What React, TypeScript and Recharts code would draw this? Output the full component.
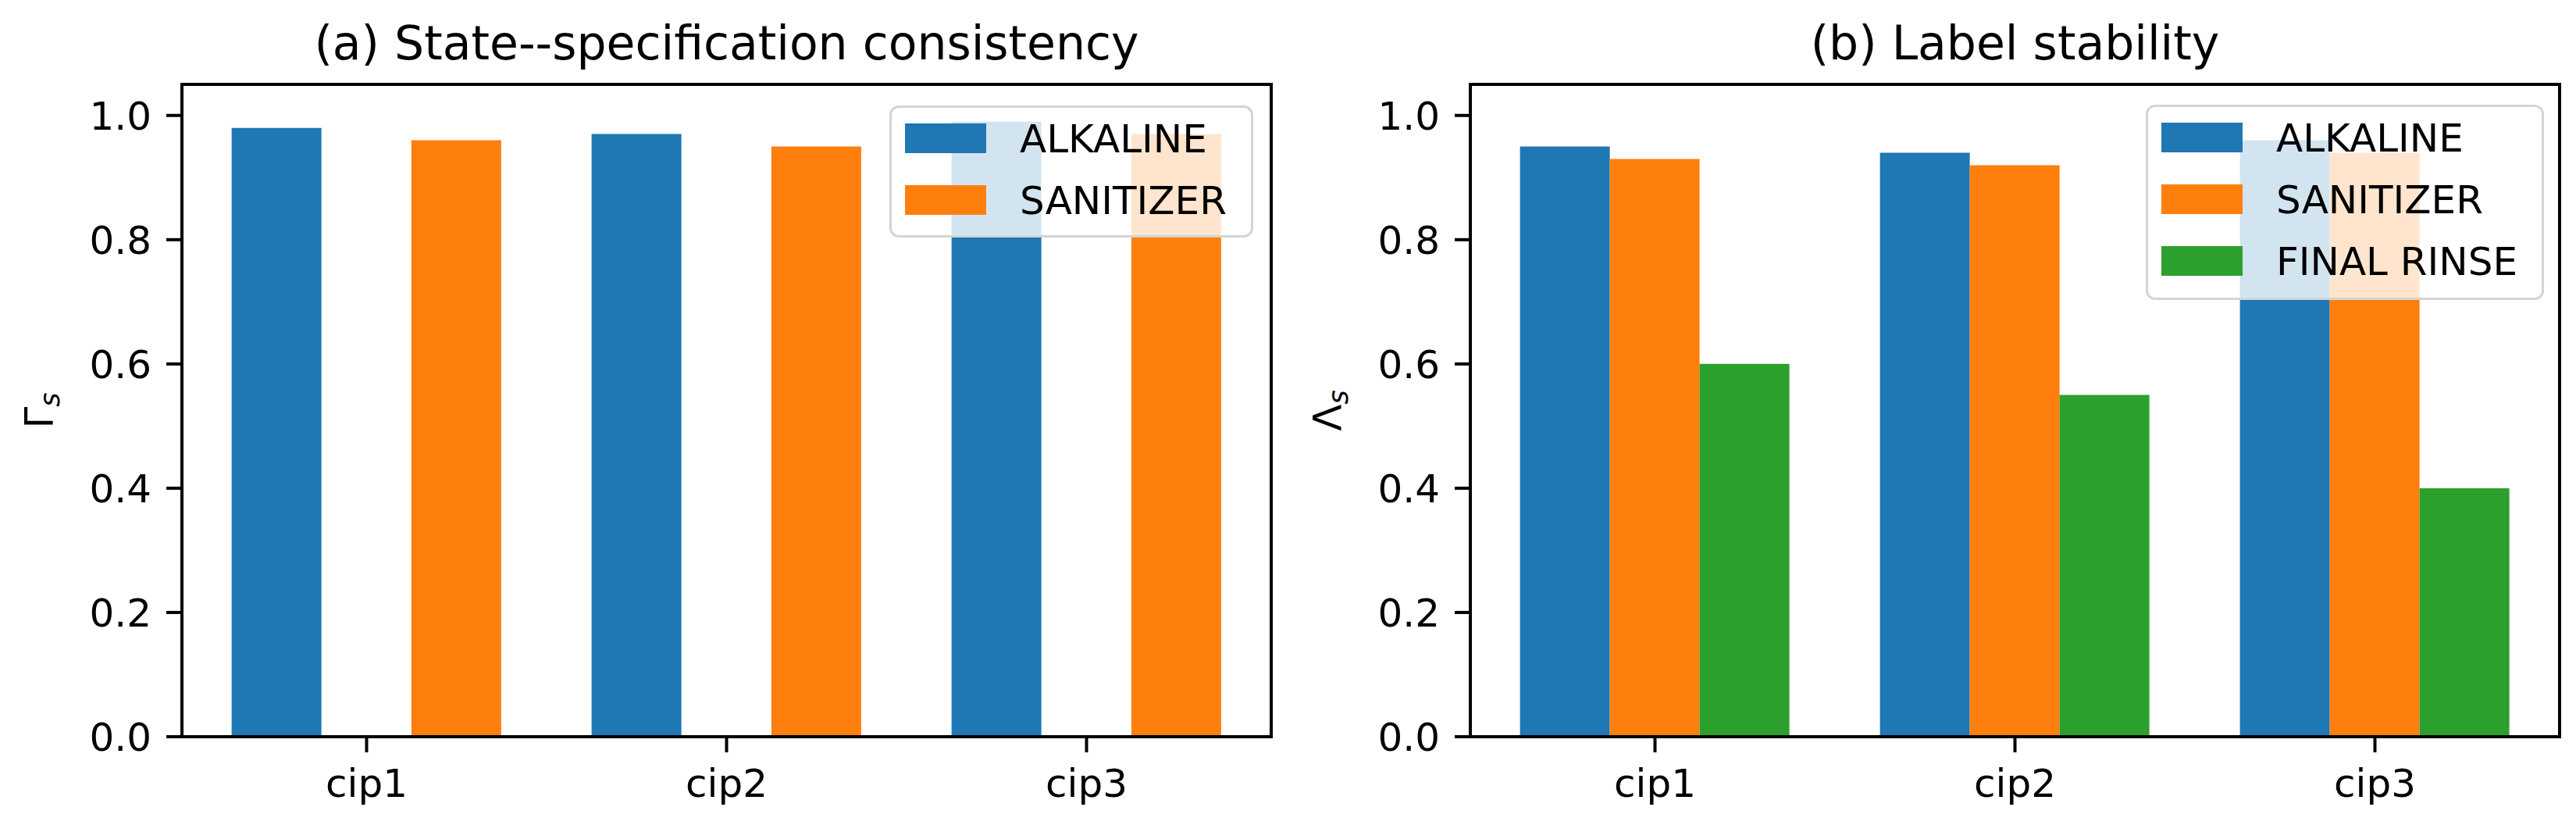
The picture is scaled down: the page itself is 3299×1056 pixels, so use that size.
import React from 'react';
import { BarChart, Bar, XAxis, YAxis, Legend } from 'recharts';

// ---- data ----
const categories = ['cip1', 'cip2', 'cip3'];
const seriesNames = ['ALKALINE', 'SANITIZER', 'FINAL RINSE'];
const seriesColors = ['#1f77b4', '#ff7f0e', '#2ca02c'];

const consistencyAlkaline = [0.98, 0.97, 0.99];
const consistencySanitizer = [0.96, 0.95, 0.97];

const stabilityAlkaline = [0.95, 0.94, 0.96];
const stabilitySanitizer = [0.93, 0.92, 0.94];
const stabilityFinalRinse = [0.6, 0.55, 0.4];

const yTicks = [0, 0.2, 0.4, 0.6, 0.8, 1.0];
const yDomain: [number, number] = [0, 1.05];

const panelTitles = ['(a) State--specification consistency', '(b) Label stability'];
const yLabelMain = ['\u0393', '\u039B'];
const yLabelSub = ['s', 's'];

const consistencyData = categories.map((c, i) => ({
  category: c,
  alkaline: consistencyAlkaline[i],
  sanitizer: consistencySanitizer[i],
}));

const stabilityData = categories.map((c, i) => ({
  category: c,
  alkaline: stabilityAlkaline[i],
  sanitizer: stabilitySanitizer[i],
  finalRinse: stabilityFinalRinse[i],
}));

// ---- layout ----
const CHART_W = 1650;
const CHART_H = 1056;
const PLOT_LEFT = 233;
const PLOT_TOP = 108;
const RIGHT_MARGIN = 22;
const XAXIS_H = 113;
const PLOT_CENTER_X = (PLOT_LEFT + (CHART_W - RIGHT_MARGIN)) / 2;
const PLOT_CENTER_Y = (PLOT_TOP + (CHART_H - XAXIS_H)) / 2;

const spineStyle = { stroke: '#000', strokeWidth: 4, strokeLinecap: 'square' as const };
const tickLineStyle = { stroke: '#000', strokeWidth: 4 };
const tickTextStyle = { fontSize: 50, fill: '#000' };

type Box = { left: number; top: number; width: number; height: number };

const makeLegend = (box: Box) => (props: any) => {
  const items = (props.payload || [])
    .filter((p: any) => p.type !== 'none')
    .slice()
    .sort((a: any, b: any) => seriesNames.indexOf(a.value) - seriesNames.indexOf(b.value));
  return (
    <div
      style={{
        boxSizing: 'border-box',
        width: box.width,
        height: box.height,
        border: '3px solid #d4d4d4',
        borderRadius: 12,
        background: 'rgba(255,255,255,0.8)',
        paddingTop: 20,
        paddingLeft: 17,
      }}
    >
      {items.map((it: any, i: number) => (
        <div
          key={i}
          style={{ display: 'flex', alignItems: 'center', height: 38, marginBottom: 41 }}
        >
          <div style={{ width: 104, height: 38, background: it.color, flex: 'none' }} />
          <span
            style={{
              marginLeft: 43,
              fontSize: 50,
              lineHeight: '38px',
              color: '#000',
              whiteSpace: 'nowrap',
              position: 'relative',
              top: 1,
            }}
          >
            {it.value}
          </span>
        </div>
      ))}
    </div>
  );
};

function Panel({
  data,
  index,
  keys,
  barGap,
  box,
}: {
  data: any[];
  index: number;
  keys: string[];
  barGap: string | number;
  box: Box;
}) {
  return (
    <div style={{ position: 'relative', width: CHART_W, height: CHART_H }}>
      <svg
        width={CHART_W}
        height={CHART_H}
        style={{ position: 'absolute', left: 0, top: 0, pointerEvents: 'none' }}
      >
        <text x={PLOT_CENTER_X} y={76} textAnchor="middle" fontSize={60} fill="#000">
          {panelTitles[index]}
        </text>
        <text
          transform={`translate(67, ${PLOT_CENTER_Y}) rotate(-90)`}
          textAnchor="middle"
          fontSize={50}
          fill="#000"
        >
          {yLabelMain[index]}
          <tspan fontSize={35} dy={9} fontStyle="italic">
            {yLabelSub[index]}
          </tspan>
        </text>
      </svg>
      <BarChart
        width={CHART_W}
        height={CHART_H}
        data={data}
        margin={{ top: PLOT_TOP - 1, right: RIGHT_MARGIN - 1, bottom: 0, left: 0 }}
        barCategoryGap="12.5%"
        barGap={barGap}
      >
        <XAxis
          dataKey="category"
          height={XAXIS_H}
          padding={{ left: 6, right: 6 }}
          axisLine={spineStyle}
          tickLine={tickLineStyle}
          tickSize={20}
          tickMargin={21}
          tick={tickTextStyle}
          interval={0}
        />
        <XAxis
          xAxisId="top"
          orientation="top"
          dataKey="category"
          height={1}
          padding={{ left: 6, right: 6 }}
          axisLine={spineStyle}
          tickLine={false}
          tick={false}
        />
        <YAxis
          width={PLOT_LEFT}
          domain={yDomain}
          ticks={yTicks}
          type="number"
          allowDataOverflow
          axisLine={spineStyle}
          tickLine={tickLineStyle}
          tickSize={20}
          tickMargin={19}
          tick={tickTextStyle}
          tickFormatter={(v: number) => v.toFixed(1)}
        />
        <YAxis
          yAxisId="right"
          orientation="right"
          width={1}
          domain={yDomain}
          type="number"
          axisLine={spineStyle}
          tickLine={false}
          tick={false}
        />
        <Legend
          layout="vertical"
          align="center"
          verticalAlign="middle"
          content={makeLegend(box)}
          wrapperStyle={{
            left: box.left,
            top: box.top,
            width: box.width,
            height: box.height,
          }}
        />
        {keys.map((k) => {
          const si = ['alkaline', 'sanitizer', 'finalRinse'].indexOf(k);
          return (
            <Bar
              key={k}
              dataKey={k}
              name={seriesNames[si]}
              fill={seriesColors[si]}
              isAnimationActive={false}
            />
          );
        })}
      </BarChart>
    </div>
  );
}

export default function App() {
  return (
    <div
      style={{
        position: 'absolute',
        left: 0,
        top: 0,
        width: 3299,
        height: 1056,
        background: '#fff',
        display: 'flex',
        fontFamily: '"DejaVu Sans", sans-serif',
        overflow: 'hidden',
      }}
    >
      <Panel
        data={consistencyData}
        index={0}
        keys={['alkaline', 'sanitizer']}
        barGap="25%"
        box={{ left: 1139, top: 135, width: 466, height: 169 }}
      />
      <Panel
        data={stabilityData}
        index={1}
        keys={['alkaline', 'sanitizer', 'finalRinse']}
        barGap={0}
        box={{ left: 1098, top: 134, width: 510, height: 250 }}
      />
    </div>
  );
}
